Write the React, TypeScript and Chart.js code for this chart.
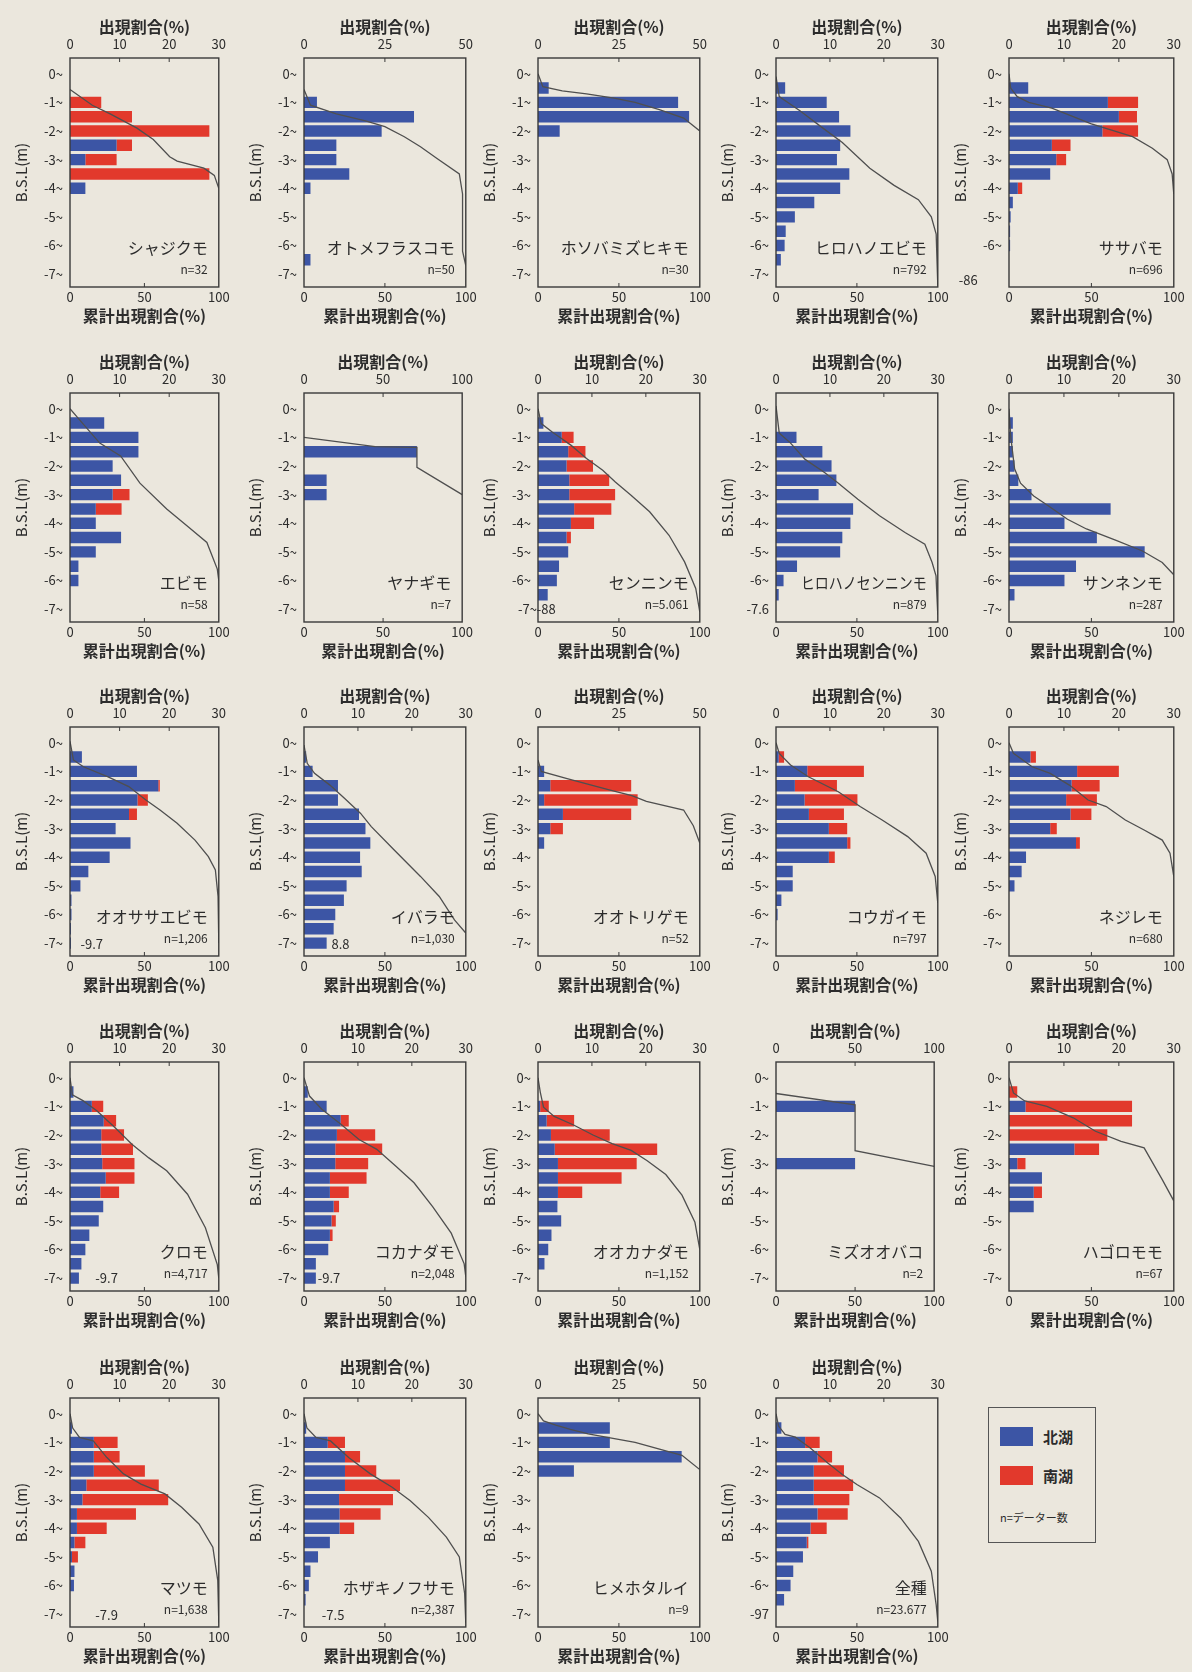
import React, { useEffect, useRef } from "react";
import { Chart, registerables } from "chart.js";

Chart.register(...registerables);

const FONT = '"Noto Sans CJK JP", "Noto Sans", sans-serif';
const PAPER = "#ebe7dd";
const BLUE = "#3c55a5";
const RED = "#e2392c";
const INK = "#2c2c2c";
const CURVE = "#4f4f4f";

// depth bins (m below lake level) shared by every panel
const DEPTHS = [-0.5, -1, -1.5, -2, -2.5, -3, -3.5, -4, -4.5, -5, -5.5, -6, -6.5, -7];
const Y_TICKS = [0, -1, -2, -3, -4, -5, -6, -7];
const CUM_TICKS = [0, 50, 100];

// ---- シャジクモ
const SHAJIKUMO_N = [0, 0, 0, 0, 9.4, 3.1, 0, 3.1, 0, 0, 0, 0, 0, 0];
const SHAJIKUMO_S = [0, 6.3, 12.5, 28.1, 3.1, 6.3, 28.1, 0, 0, 0, 0, 0, 0, 0];
const SHAJIKUMO_CX = [0, 15, 27, 45, 56, 67, 72, 90, 97, 100];
const SHAJIKUMO_CY = [-0.55, -1.1, -1.4, -1.9, -2.3, -2.9, -3.05, -3.3, -3.55, -4.0];
// ---- オトメフラスコモ
const OTOME_N = [0, 4, 34, 24, 10, 10, 14, 2, 0, 0, 0, 0, 2, 0];
const OTOME_S = [0, 0, 0, 0, 0, 0, 0, 0, 0, 0, 0, 0, 0, 0];
const OTOME_CX = [0, 4, 20, 38, 50, 62, 72, 82, 96, 98, 98, 100];
const OTOME_CY = [-0.55, -1.1, -1.4, -1.65, -1.85, -2.2, -2.55, -2.95, -3.5, -4.2, -6.2, -6.7];
// ---- ホソバミズヒキモ
const HOSOBA_N = [3.3, 43.3, 46.7, 6.7, 0, 0, 0, 0, 0, 0, 0, 0, 0, 0];
const HOSOBA_S = [0, 0, 0, 0, 0, 0, 0, 0, 0, 0, 0, 0, 0, 0];
const HOSOBA_CX = [0, 3, 15, 30, 47, 60, 75, 90, 100];
const HOSOBA_CY = [0, -0.45, -0.6, -0.7, -0.85, -1.0, -1.25, -1.55, -2.0];
// ---- ヒロハノエビモ
const HIROHAEBI_N = [1.7, 9.4, 11.7, 13.8, 11.9, 11.3, 13.6, 11.9, 7.1, 3.5, 1.8, 1.6, 0.9, 0];
const HIROHAEBI_S = [0, 0, 0, 0, 0, 0, 0, 0, 0, 0, 0, 0, 0, 0];
const HIROHAEBI_CX = [0, 2, 15, 29, 41, 58, 73, 88, 96, 99, 100];
const HIROHAEBI_CY = [-0.1, -0.8, -1.3, -1.9, -2.4, -3.3, -3.9, -4.4, -5.0, -5.6, -7.4];
// ---- ササバモ
const SASABA_N = [3.5, 18, 20, 17, 7.8, 8.6, 7.5, 1.6, 0.7, 0.3, 0.2, 0.2, 0, 0];
const SASABA_S = [0, 5.5, 3.3, 6.5, 3.4, 1.8, 0, 0.8, 0, 0, 0, 0, 0, 0];
const SASABA_CX = [0, 1, 5, 12, 26, 50, 75, 87, 96, 99, 100];
const SASABA_CY = [0, -0.5, -0.8, -1.0, -1.2, -1.75, -2.2, -2.6, -3.0, -3.5, -4.2];
// ---- エビモ
const EBIMO_N = [6.9, 13.8, 13.8, 8.6, 10.3, 8.6, 5.2, 5.2, 10.3, 5.2, 1.7, 1.7, 0, 0];
const EBIMO_S = [0, 0, 0, 0, 0, 3.4, 5.2, 0, 0, 0, 0, 0, 0, 0];
const EBIMO_CX = [0, 5, 20, 34, 47, 65, 80, 92, 99, 100];
const EBIMO_CY = [0, -0.3, -1.2, -1.65, -2.6, -3.5, -4.15, -4.67, -5.6, -6.0];
// ---- ヤナギモ
const YANAGI_N = [0, 0, 71.4, 0, 14.3, 14.3, 0, 0, 0, 0, 0, 0, 0, 0];
const YANAGI_S = [0, 0, 0, 0, 0, 0, 0, 0, 0, 0, 0, 0, 0, 0];
const YANAGI_CX = [0, 45, 71.4, 71.4, 100];
const YANAGI_CY = [-1.0, -1.32, -1.35, -2.05, -3.0];
// ---- センニンモ
const SENNIN_N = [1.0, 4.4, 5.6, 5.3, 5.8, 5.8, 6.7, 6.1, 5.3, 5.6, 3.9, 3.5, 1.8, 0];
const SENNIN_S = [0, 2.2, 3.2, 4.9, 7.4, 8.5, 6.9, 4.3, 0.8, 0, 0, 0, 0, 0];
const SENNIN_CX = [0, 2, 8.8, 20.5, 30, 40, 47.8, 57.5, 69, 81, 90.6, 97.5, 100];
const SENNIN_CY = [0, -0.52, -0.81, -1.28, -1.74, -2.15, -2.56, -3.02, -3.6, -4.42, -5.35, -6.28, -7.1];
// ---- ヒロハノセンニンモ
const HIROHASEN_N = [0, 3.8, 8.6, 10.3, 11.2, 7.9, 14.3, 13.8, 12.3, 11.9, 3.9, 1.4, 0.5, 0];
const HIROHASEN_S = [0, 0, 0, 0, 0, 0, 0, 0, 0, 0, 0, 0, 0, 0];
const HIROHASEN_CX = [0, 2, 9, 18, 30, 38, 50.6, 64, 80, 92, 96.5, 98.9, 100];
const HIROHASEN_CY = [0.1, -0.85, -1.2, -1.77, -2.23, -2.58, -3.16, -3.74, -4.33, -4.73, -5.37, -5.84, -7.2];
// ---- サンネンモ
const SANNEN_N = [0.7, 0.7, 0.7, 1.0, 1.7, 4.1, 18.5, 10.1, 16.0, 24.7, 12.2, 10.1, 1.0, 0];
const SANNEN_S = [0, 0, 0, 0, 0, 0, 0, 0, 0, 0, 0, 0, 0, 0];
const SANNEN_CX = [0, 1, 3.4, 7, 15, 24, 35.5, 47, 65, 81, 93, 100];
const SANNEN_CY = [0, -0.95, -2.1, -2.6, -3.05, -3.4, -3.86, -4.2, -4.6, -4.97, -5.37, -5.8];
// ---- オオササエビモ
const OOSASA_N = [2.4, 13.5, 17.8, 13.6, 11.9, 9.2, 12.2, 8.0, 3.7, 2.1, 0.3, 0.3, 0.2, 0.2];
const OOSASA_S = [0, 0, 0.3, 2.1, 1.6, 0, 0, 0, 0, 0, 0, 0, 0, 0];
const OOSASA_CX = [0, 2.3, 9, 25.6, 39.5, 51, 60.5, 72, 84, 93, 97.7, 99.5, 100];
const OOSASA_CY = [0.05, -0.6, -0.84, -1.19, -1.53, -2.0, -2.35, -2.81, -3.4, -3.98, -4.44, -5.37, -7.0];
// ---- イバラモ
const IBARA_N = [0.4, 1.6, 6.3, 6.3, 10.2, 11.4, 12.3, 10.4, 10.7, 7.9, 7.4, 5.8, 5.5, 4.2];
const IBARA_S = [0, 0, 0, 0, 0, 0, 0, 0, 0, 0, 0, 0, 0, 0];
const IBARA_CX = [0, 2, 6.5, 16, 25, 35, 41.6, 55.6, 72, 83.6, 93, 100];
const IBARA_CY = [-0.08, -0.72, -1.07, -1.48, -1.94, -2.47, -2.93, -3.74, -4.67, -5.37, -6.19, -6.65];
// ---- オオトリゲモ
const OOTORI_N = [0, 1.9, 3.8, 1.9, 7.7, 3.8, 1.9, 0, 0, 0, 0, 0, 0, 0];
const OOTORI_S = [0, 0, 25.0, 28.9, 21.1, 3.9, 0, 0, 0, 0, 0, 0, 0, 0];
const OOTORI_CX = [0, 2, 18, 44, 58, 67, 90, 96, 100];
const OOTORI_CY = [-0.6, -1.0, -1.25, -1.65, -1.85, -2.05, -2.35, -2.9, -3.5];
// ---- コウガイモ
const KOUGAI_N = [0.5, 5.8, 3.5, 5.3, 6.1, 9.8, 13.2, 9.8, 3.1, 3.1, 1.0, 0.3, 0, 0];
const KOUGAI_S = [1.0, 10.5, 7.8, 9.8, 6.5, 3.4, 0.6, 1.1, 0, 0, 0, 0, 0, 0];
const KOUGAI_CX = [0, 2, 9, 20, 38.5, 52, 65.6, 81.4, 92.8, 98.4, 100];
const KOUGAI_CY = [0, -0.37, -0.78, -1.19, -1.71, -2.23, -2.7, -3.28, -3.86, -4.67, -5.6];
// ---- ネジレモ
const NEJIRE_N = [3.9, 12.4, 11.4, 10.4, 11.2, 7.5, 12.2, 3.1, 2.3, 1.0, 0, 0, 0, 0];
const NEJIRE_S = [1.0, 7.6, 5.1, 5.6, 3.8, 1.2, 0.7, 0, 0, 0, 0, 0, 0, 0];
const NEJIRE_CX = [0, 2.7, 14, 25, 36.6, 48, 59, 70.6, 82, 93, 97.7, 100];
const NEJIRE_CY = [0, -0.37, -0.84, -1.07, -1.48, -2.0, -2.23, -2.7, -3.05, -3.4, -3.86, -4.67];
// ---- クロモ
const KUROMO_N = [0.7, 4.4, 6.8, 6.3, 6.3, 6.5, 7.2, 6.1, 6.7, 5.8, 3.9, 3.1, 2.3, 1.8];
const KUROMO_S = [0, 2.3, 2.5, 4.6, 6.4, 6.5, 5.8, 3.8, 0, 0, 0, 0, 0, 0];
const KUROMO_CX = [0, 1.6, 8.7, 18, 30, 41.6, 53, 65, 79, 91, 99, 100];
const KUROMO_CY = [0, -0.6, -0.8, -1.15, -1.73, -2.32, -2.8, -3.25, -4.07, -5.24, -6.53, -7.0];
// ---- コカナダモ
const KOKANADA_N = [0.7, 4.2, 6.8, 6.1, 5.8, 5.8, 4.8, 4.8, 5.5, 5.1, 4.8, 4.5, 2.2, 2.2];
const KOKANADA_S = [0, 0, 1.5, 7.1, 8.7, 6.1, 6.8, 3.5, 1.0, 0.8, 0.5, 0, 0, 0];
const KOKANADA_CX = [0, 3.4, 11, 23, 34, 45, 57, 68, 79.5, 91, 99, 100];
const KOKANADA_CY = [0, -0.64, -1.1, -1.63, -2.16, -2.5, -3.1, -3.67, -4.5, -5.43, -6.5, -6.95];
// ---- オオカナダモ
const OOKANADA_N = [0, 0.4, 1.6, 2.4, 3.1, 3.7, 3.7, 3.7, 3.6, 4.3, 2.5, 1.9, 1.2, 0];
const OOKANADA_S = [0, 1.6, 5.1, 10.9, 19.0, 14.6, 11.8, 4.5, 0, 0, 0, 0, 0, 0];
const OOKANADA_CX = [0, 1.4, 3.4, 10, 22, 34, 45.8, 57.6, 67.5, 79, 89, 97, 100];
const OOKANADA_CY = [0, -0.5, -1.03, -1.35, -1.65, -2.0, -2.3, -2.54, -2.9, -3.38, -4.1, -5.05, -6.0];
// ---- ミズオオバコ
const MIZUOOBAKO_N = [0, 50, 0, 0, 0, 50, 0, 0, 0, 0, 0, 0, 0, 0];
const MIZUOOBAKO_S = [0, 0, 0, 0, 0, 0, 0, 0, 0, 0, 0, 0, 0, 0];
const MIZUOOBAKO_CX = [0, 50, 50, 100];
const MIZUOOBAKO_CY = [-0.55, -0.95, -2.55, -3.1];
// ---- ハゴロモモ
const HAGOROMO_N = [0, 3.0, 0, 0, 11.9, 1.5, 6.0, 4.5, 4.5, 0, 0, 0, 0, 0];
const HAGOROMO_S = [1.5, 19.4, 22.4, 17.9, 4.5, 1.5, 0, 1.5, 0, 0, 0, 0, 0, 0];
const HAGOROMO_CX = [0, 2.7, 9.5, 23, 39, 52.5, 68, 82, 93, 100];
const HAGOROMO_CY = [0, -0.53, -0.81, -1.0, -1.4, -1.87, -2.22, -2.45, -3.56, -4.3];
// ---- マツモ
const MATSUMO_N = [0.4, 4.8, 4.8, 4.8, 3.3, 2.5, 1.4, 1.4, 0.9, 0.4, 0.9, 0.8, 0, 0];
const MATSUMO_S = [0, 4.8, 5.2, 10.3, 14.6, 17.3, 11.9, 6.0, 2.2, 1.2, 0, 0, 0, 0];
const MATSUMO_CX = [0, 1.8, 6.4, 15.6, 24.8, 36, 47.7, 63.8, 75, 86.7, 96, 99.3, 100];
const MATSUMO_CY = [0, -0.5, -0.83, -0.95, -1.53, -2.1, -2.46, -2.8, -3.27, -3.85, -4.66, -5.82, -7.3];
// ---- ホザキノフサモ
const HOZAKI_N = [0.4, 4.4, 7.6, 7.6, 7.6, 6.5, 6.6, 6.6, 4.8, 2.6, 1.2, 0.9, 0.3, 0];
const HOZAKI_S = [0, 3.2, 2.8, 5.8, 10.2, 10.0, 7.6, 2.7, 0, 0, 0, 0, 0, 0];
const HOZAKI_CX = [0, 1.8, 7.4, 16.4, 27.6, 41, 54.5, 65.7, 76.9, 88, 96, 99.3, 100];
const HOZAKI_CY = [0, -0.5, -0.83, -0.95, -1.53, -2.1, -2.57, -3.04, -3.62, -4.31, -5.0, -6.28, -7.3];
// ---- ヒメホタルイ
const HIMEHOTARU_N = [22.2, 22.2, 44.4, 11.1, 0, 0, 0, 0, 0, 0, 0, 0, 0, 0];
const HIMEHOTARU_S = [0, 0, 0, 0, 0, 0, 0, 0, 0, 0, 0, 0, 0, 0];
const HIMEHOTARU_CX = [0, 3.4, 11, 20, 31, 60, 89, 100];
const HIMEHOTARU_CY = [0, -0.25, -0.4, -0.55, -0.7, -1.0, -1.45, -1.95];
// ---- 全種
const ALL_N = [1.0, 5.4, 7.7, 7.0, 7.0, 7.0, 7.7, 6.4, 5.7, 5.0, 3.2, 2.7, 1.5, 0];
const ALL_S = [0, 2.7, 2.7, 5.6, 7.3, 6.6, 5.6, 3.0, 0.3, 0, 0, 0, 0, 0];
const ALL_CX = [0, 1.6, 5.6, 12, 21, 32, 41, 50, 64, 77, 88, 96, 99, 100];
const ALL_CY = [0, -0.43, -0.72, -0.82, -1.19, -1.72, -2.12, -2.47, -2.94, -3.64, -4.46, -5.5, -6.67, -7.26];

type Note = { text: string; x: number; y: number; align: CanvasTextAlign };
type PanelDef = {
  name: string;
  n: string;
  max: number;
  north: number[];
  south: number[];
  cumX: number[];
  cumY: number[];
  tick7?: string;
  notes?: Note[];
  nameWidth?: number;
};

const PANELS: PanelDef[] = [
  { name: "シャジクモ", n: "n=32", max: 30, north: SHAJIKUMO_N, south: SHAJIKUMO_S, cumX: SHAJIKUMO_CX, cumY: SHAJIKUMO_CY },
  { name: "オトメフラスコモ", n: "n=50", max: 50, north: OTOME_N, south: OTOME_S, cumX: OTOME_CX, cumY: OTOME_CY },
  { name: "ホソバミズヒキモ", n: "n=30", max: 50, north: HOSOBA_N, south: HOSOBA_S, cumX: HOSOBA_CX, cumY: HOSOBA_CY },
  { name: "ヒロハノエビモ", n: "n=792", max: 30, north: HIROHAEBI_N, south: HIROHAEBI_S, cumX: HIROHAEBI_CX, cumY: HIROHAEBI_CY },
  { name: "ササバモ", n: "n=696", max: 30, north: SASABA_N, south: SASABA_S, cumX: SASABA_CX, cumY: SASABA_CY, tick7: "", notes: [{ text: "-86", x: -19, y: -7.2, align: "right" }] },
  { name: "エビモ", n: "n=58", max: 30, north: EBIMO_N, south: EBIMO_S, cumX: EBIMO_CX, cumY: EBIMO_CY },
  { name: "ヤナギモ", n: "n=7", max: 100, north: YANAGI_N, south: YANAGI_S, cumX: YANAGI_CX, cumY: YANAGI_CY },
  { name: "センニンモ", n: "n=5.061", max: 30, north: SENNIN_N, south: SENNIN_S, cumX: SENNIN_CX, cumY: SENNIN_CY, tick7: "", notes: [{ text: "-7~-88", x: 11, y: -7.0, align: "right" }] },
  { name: "ヒロハノセンニンモ", n: "n=879", max: 30, north: HIROHASEN_N, south: HIROHASEN_S, cumX: HIROHASEN_CX, cumY: HIROHASEN_CY, tick7: "-7.6", nameWidth: 126 },
  { name: "サンネンモ", n: "n=287", max: 30, north: SANNEN_N, south: SANNEN_S, cumX: SANNEN_CX, cumY: SANNEN_CY },
  { name: "オオササエビモ", n: "n=1,206", max: 30, north: OOSASA_N, south: OOSASA_S, cumX: OOSASA_CX, cumY: OOSASA_CY, notes: [{ text: "-9.7", x: 7, y: -7.05, align: "left" }] },
  { name: "イバラモ", n: "n=1,030", max: 30, north: IBARA_N, south: IBARA_S, cumX: IBARA_CX, cumY: IBARA_CY, notes: [{ text: "8.8", x: 17, y: -7.05, align: "left" }] },
  { name: "オオトリゲモ", n: "n=52", max: 50, north: OOTORI_N, south: OOTORI_S, cumX: OOTORI_CX, cumY: OOTORI_CY },
  { name: "コウガイモ", n: "n=797", max: 30, north: KOUGAI_N, south: KOUGAI_S, cumX: KOUGAI_CX, cumY: KOUGAI_CY },
  { name: "ネジレモ", n: "n=680", max: 30, north: NEJIRE_N, south: NEJIRE_S, cumX: NEJIRE_CX, cumY: NEJIRE_CY },
  { name: "クロモ", n: "n=4,717", max: 30, north: KUROMO_N, south: KUROMO_S, cumX: KUROMO_CX, cumY: KUROMO_CY, notes: [{ text: "-9.7", x: 17, y: -7.0, align: "left" }] },
  { name: "コカナダモ", n: "n=2,048", max: 30, north: KOKANADA_N, south: KOKANADA_S, cumX: KOKANADA_CX, cumY: KOKANADA_CY, notes: [{ text: "-9.7", x: 8.5, y: -7.0, align: "left" }] },
  { name: "オオカナダモ", n: "n=1,152", max: 30, north: OOKANADA_N, south: OOKANADA_S, cumX: OOKANADA_CX, cumY: OOKANADA_CY },
  { name: "ミズオオバコ", n: "n=2", max: 100, north: MIZUOOBAKO_N, south: MIZUOOBAKO_S, cumX: MIZUOOBAKO_CX, cumY: MIZUOOBAKO_CY },
  { name: "ハゴロモモ", n: "n=67", max: 30, north: HAGOROMO_N, south: HAGOROMO_S, cumX: HAGOROMO_CX, cumY: HAGOROMO_CY },
  { name: "マツモ", n: "n=1,638", max: 30, north: MATSUMO_N, south: MATSUMO_S, cumX: MATSUMO_CX, cumY: MATSUMO_CY, notes: [{ text: "-7.9", x: 17, y: -7.05, align: "left" }] },
  { name: "ホザキノフサモ", n: "n=2,387", max: 30, north: HOZAKI_N, south: HOZAKI_S, cumX: HOZAKI_CX, cumY: HOZAKI_CY, notes: [{ text: "-7.5", x: 11, y: -7.05, align: "left" }] },
  { name: "ヒメホタルイ", n: "n=9", max: 50, north: HIMEHOTARU_N, south: HIMEHOTARU_S, cumX: HIMEHOTARU_CX, cumY: HIMEHOTARU_CY },
  { name: "全種", n: "n=23.677", max: 30, north: ALL_N, south: ALL_S, cumX: ALL_CX, cumY: ALL_CY, tick7: "-97" },
];

// layout (page pixels)
const COL_LEFT = [70, 304, 538, 776, 1009];
const COL_W = [152, 165, 165, 165, 168];
const ROW_TOP = [58, 393, 727, 1062, 1398];
const BOX_H = 229;
const PAD_L = 66;
const PAD_T = 56;
const PAD_R = 10;
const PAD_B = 46;
const CH = PAD_T + BOX_H + PAD_B;

function Panel({ p, index }: { p: PanelDef; index: number }) {
  const ref = useRef<HTMLCanvasElement>(null);
  const col = index % 5;
  const row = Math.floor(index / 5);
  const boxW = COL_W[col];
  const CW = PAD_L + boxW + PAD_R;

  useEffect(() => {
    const canvas = ref.current;
    if (!canvas) return;
    const decor = {
      id: "decor" + index,
      afterDraw(chart: any) {
        const { ctx, chartArea: a, scales } = chart;
        const xs = scales.x;
        const x2 = scales.x2;
        const ys = scales.y;
        ctx.save();
        ctx.strokeStyle = "#3a3a3a";
        ctx.lineWidth = 1.4;
        ctx.strokeRect(a.left, a.top, a.right - a.left, a.bottom - a.top);
        ctx.lineWidth = 1;
        ctx.beginPath();
        xs.ticks.forEach((t: any) => {
          const px = xs.getPixelForValue(t.value);
          if (px > a.left + 2 && px < a.right - 2) {
            ctx.moveTo(px, a.top);
            ctx.lineTo(px, a.top + 4);
          }
        });
        x2.ticks.forEach((t: any) => {
          const px = x2.getPixelForValue(t.value);
          if (px > a.left + 2 && px < a.right - 2) {
            ctx.moveTo(px, a.bottom);
            ctx.lineTo(px, a.bottom - 4);
          }
        });
        ctx.stroke();
        ctx.fillStyle = INK;
        ctx.textBaseline = "middle";
        ctx.textAlign = "right";
        ctx.font = `16px ${FONT}`;
        if (p.nameWidth) {
          ctx.fillText(p.name, a.right - 11, ys.getPixelForValue(-6.1), p.nameWidth);
        } else {
          ctx.fillText(p.name, a.right - 11, ys.getPixelForValue(-6.1));
        }
        ctx.font = `12px ${FONT}`;
        ctx.fillText(p.n, a.right - 11, ys.getPixelForValue(-6.85));
        (p.notes || []).forEach((nt) => {
          ctx.font = `13px ${FONT}`;
          ctx.textAlign = nt.align;
          ctx.fillText(nt.text, x2.getPixelForValue(nt.x), ys.getPixelForValue(nt.y));
        });
        ctx.restore();
      },
    };
    const chart = new Chart(canvas, {
      type: "bar",
      data: {
        datasets: [
          {
            type: "bar",
            label: "北湖",
            indexAxis: "y",
            xAxisID: "x",
            yAxisID: "y",
            data: DEPTHS.map((d, i) => ({ x: p.north[i], y: d })),
            backgroundColor: BLUE,
            borderWidth: 0,
            barPercentage: 0.8,
            categoryPercentage: 1,
            order: 2,
          } as any,
          {
            type: "bar",
            label: "南湖",
            indexAxis: "y",
            xAxisID: "x",
            yAxisID: "y",
            data: DEPTHS.map((d, i) => ({ x: p.south[i], y: d })),
            backgroundColor: RED,
            borderWidth: 0,
            barPercentage: 0.8,
            categoryPercentage: 1,
            order: 2,
          } as any,
          {
            type: "line",
            label: "累計",
            indexAxis: "y",
            xAxisID: "x2",
            yAxisID: "y",
            data: p.cumX.map((v, i) => ({ x: v, y: p.cumY[i] })),
            borderColor: CURVE,
            borderWidth: 1.3,
            pointRadius: 0,
            fill: false,
            tension: 0,
            order: 1,
          } as any,
        ],
      },
      options: {
        indexAxis: "y",
        responsive: false,
        animation: false,
        devicePixelRatio: 1,
        events: [],
        layout: { padding: { left: 0, top: 0, right: PAD_R, bottom: 0 }, autoPadding: false },
        plugins: { legend: { display: false }, tooltip: { enabled: false } },
        scales: {
          x: {
            type: "linear",
            position: "top",
            stacked: true,
            min: 0,
            max: p.max,
            grid: { display: false, drawTicks: false },
            border: { display: false },
            ticks: {
              stepSize: p.max === 30 ? 10 : p.max / 2,
              color: INK,
              font: { family: FONT, size: 13 },
              padding: 6,
              maxRotation: 0,
              autoSkip: false,
            },
            title: {
              display: true,
              text: "出現割合(%)",
              color: INK,
              font: { family: FONT, size: 16, weight: "bold" },
              padding: { top: 15, bottom: 0 },
            },
            afterFit: (s: any) => {
              s.height = PAD_T;
            },
          },
          x2: {
            type: "linear",
            position: "bottom",
            min: 0,
            max: 100,
            grid: { display: false, drawTicks: false },
            border: { display: false },
            afterBuildTicks: (s: any) => {
              s.ticks = CUM_TICKS.map((value) => ({ value }));
            },
            ticks: {
              color: INK,
              font: { family: FONT, size: 13 },
              padding: 2,
              maxRotation: 0,
              autoSkip: false,
            },
            title: {
              display: true,
              text: "累計出現割合(%)",
              color: INK,
              font: { family: FONT, size: 16, weight: "bold" },
              padding: { top: 0, bottom: 7 },
            },
            afterFit: (s: any) => {
              s.height = PAD_B;
            },
          },
          y: {
            type: "linear",
            position: "left",
            stacked: true,
            offset: false,
            min: -7.45,
            max: 0.55,
            grid: { display: false, drawTicks: false },
            border: { display: false },
            afterBuildTicks: (s: any) => {
              s.ticks = Y_TICKS.map((value) => ({ value }));
            },
            ticks: {
              color: INK,
              font: { family: FONT, size: 13 },
              padding: 7,
              autoSkip: false,
              callback: (v: any) => {
                const num = Number(v);
                if (num === -7 && p.tick7 !== undefined) return p.tick7;
                return `${num === 0 ? 0 : num}~`;
              },
            },
            title: {
              display: true,
              text: "B.S.L(m)",
              color: INK,
              font: { family: FONT, size: 15 },
              padding: { top: 8, bottom: 0 },
            },
            afterFit: (s: any) => {
              s.width = PAD_L;
            },
          },
        },
      } as any,
      plugins: [decor],
    });
    return () => chart.destroy();
  }, [p, index]);

  return (
    <canvas
      ref={ref}
      width={CW}
      height={CH}
      style={{
        position: "absolute",
        left: COL_LEFT[col] - PAD_L,
        top: ROW_TOP[row] - PAD_T,
        width: CW,
        height: CH,
      }}
    />
  );
}

function Legend() {
  const sw = { position: "absolute" as const, left: 11, width: 33, height: 19 };
  const txt = {
    position: "absolute" as const,
    left: 54,
    fontSize: 15,
    fontWeight: 700 as const,
    color: INK,
    lineHeight: "19px",
    fontFamily: FONT,
  };
  return (
    <div
      style={{
        position: "absolute",
        left: 988,
        top: 1407,
        width: 108,
        height: 136,
        border: "1.5px solid #555",
        boxSizing: "border-box",
      }}
    >
      <div style={{ ...sw, top: 19, background: BLUE }} />
      <div style={{ ...txt, top: 19 }}>北湖</div>
      <div style={{ ...sw, top: 58, background: RED }} />
      <div style={{ ...txt, top: 58 }}>南湖</div>
      <div
        style={{
          position: "absolute",
          left: 11,
          top: 102,
          fontSize: 11,
          color: INK,
          fontFamily: FONT,
          lineHeight: "14px",
          whiteSpace: "nowrap",
        }}
      >
        n=データー数
      </div>
    </div>
  );
}

export default function App() {
  return (
    <div
      style={{
        position: "absolute",
        left: 0,
        top: 0,
        width: 1192,
        height: 1672,
        background: PAPER,
        overflow: "hidden",
      }}
    >
      {PANELS.map((p, i) => (
        <Panel key={i} p={p} index={i} />
      ))}
      <Legend />
    </div>
  );
}
